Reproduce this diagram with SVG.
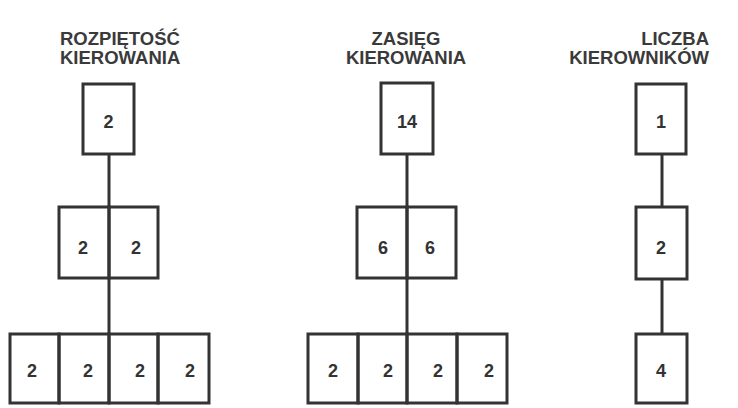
<svg xmlns="http://www.w3.org/2000/svg" width="738" height="408" viewBox="0 0 738 408">
<style>
.box{fill:none;stroke:#333;stroke-width:3}
.num{font-family:"Liberation Sans",Arial,sans-serif;font-weight:bold;font-size:18px;fill:#333;text-anchor:middle}
.title{font-family:"Liberation Sans",Arial,sans-serif;font-weight:bold;font-size:18.5px;fill:#3a3a3a}
.conn{stroke:#333;stroke-width:3;fill:none}
</style>
<rect x="0" y="0" width="738" height="408" fill="#ffffff"/>
<g id="titles">
<text class="title" x="60" y="45">ROZPIĘTOŚĆ</text>
<text class="title" x="60" y="64">KIEROWANIA</text>
<text class="title" x="406" y="45" text-anchor="middle">ZASIĘG</text>
<text class="title" x="406" y="64" text-anchor="middle">KIEROWANIA</text>
<text class="title" x="709" y="45" text-anchor="end">LICZBA</text>
<text class="title" x="709" y="64" text-anchor="end">KIEROWNIKÓW</text>
</g>
<g id="connectors">
<line class="conn" x1="109" y1="154" x2="109" y2="207"/>
<line class="conn" x1="109" y1="278" x2="109" y2="334"/>
<line class="conn" x1="407" y1="154" x2="407" y2="207"/>
<line class="conn" x1="407" y1="278" x2="407" y2="334"/>
<line class="conn" x1="662" y1="154" x2="662" y2="207"/>
<line class="conn" x1="662" y1="279" x2="662" y2="334"/>
</g>
<g id="l-top"><rect class="box" x="83" y="84" width="51" height="70"/><text class="num" x="108.5" y="128">2</text></g>
<g id="l-mid1"><rect class="box" x="59" y="207" width="50" height="71"/><text class="num" x="83" y="254">2</text></g>
<g id="l-mid2"><rect class="box" x="109" y="207" width="49" height="71"/><text class="num" x="136" y="254">2</text></g>
<g id="l-bot1"><rect class="box" x="10" y="334" width="49" height="69"/><text class="num" x="32" y="377">2</text></g>
<g id="l-bot2"><rect class="box" x="59" y="334" width="50" height="69"/><text class="num" x="88" y="377">2</text></g>
<g id="l-bot3"><rect class="box" x="109" y="334" width="49" height="69"/><text class="num" x="140" y="377">2</text></g>
<g id="l-bot4"><rect class="box" x="158" y="334" width="51" height="69"/><text class="num" x="190" y="377">2</text></g>
<g id="m-top"><rect class="box" x="381" y="83" width="52" height="71"/><text class="num" x="407" y="128">14</text></g>
<g id="m-mid1"><rect class="box" x="357" y="207" width="50" height="71"/><text class="num" x="383" y="254">6</text></g>
<g id="m-mid2"><rect class="box" x="407" y="207" width="49" height="71"/><text class="num" x="430" y="254">6</text></g>
<g id="m-bot1"><rect class="box" x="308" y="334" width="50" height="69"/><text class="num" x="333" y="377">2</text></g>
<g id="m-bot2"><rect class="box" x="358" y="334" width="49" height="69"/><text class="num" x="388" y="377">2</text></g>
<g id="m-bot3"><rect class="box" x="407" y="334" width="50" height="69"/><text class="num" x="438" y="377">2</text></g>
<g id="m-bot4"><rect class="box" x="457" y="334" width="50" height="69"/><text class="num" x="489" y="377">2</text></g>
<g id="r-top"><rect class="box" x="636" y="84" width="50" height="70"/><text class="num" x="661" y="128">1</text></g>
<g id="r-mid"><rect class="box" x="636" y="207" width="51" height="72"/><text class="num" x="661" y="254">2</text></g>
<g id="r-bot"><rect class="box" x="636" y="334" width="51" height="69"/><text class="num" x="661" y="377">4</text></g>
</svg>
